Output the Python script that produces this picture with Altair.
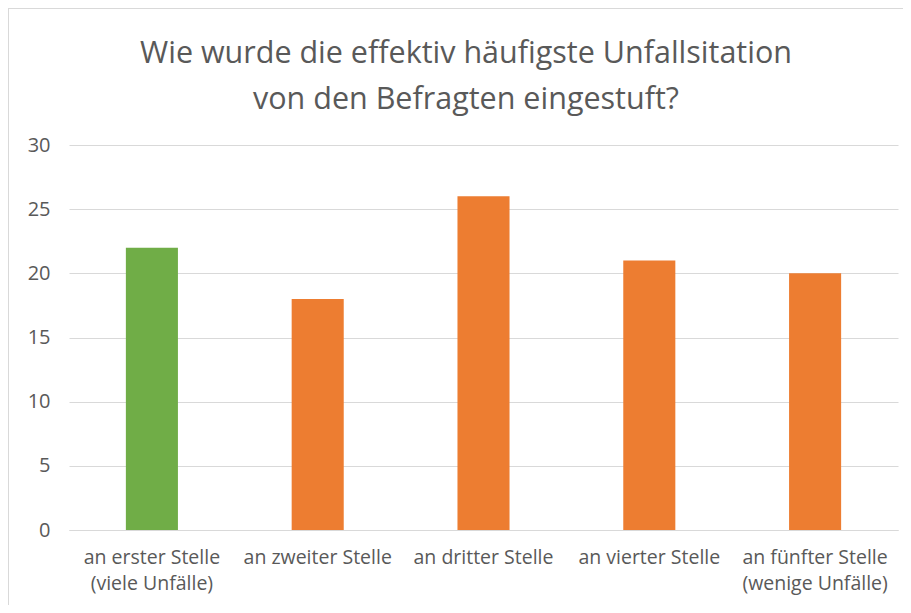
import altair as alt
import pandas as pd

kategorien = [
    "an erster Stelle\n(viele Unfälle)",
    "an zweiter Stelle",
    "an dritter Stelle",
    "an vierter Stelle",
    "an fünfter Stelle\n(wenige Unfälle)",
]
werte = [22, 18, 26, 21, 20]
y_ticks = [0, 5, 10, 15, 20, 25, 30]
titel = ["Wie wurde die effektiv häufigste Unfallsitation", "von den Befragten eingestuft?"]

df = pd.DataFrame({"rang": kategorien, "anzahl": werte})

W, H = 829, 385
FONT = "Open Sans"
TXT = "#595959"
GRID = "#d9d9d9"

bars = alt.Chart(df).mark_bar().encode(
    x=alt.X("rang:N", sort=kategorien, title=None,
            scale=alt.Scale(paddingInner=0.686, paddingOuter=0.343),
            axis=alt.Axis(labelAngle=0, labelExpr="split(datum.label, '\\n')",
                          labelFont=FONT, labelFontSize=19.5, labelColor=TXT,
                          labelPadding=18, ticks=False, domain=True,
                          domainColor=GRID, domainWidth=1, labelLineHeight=26,
                          grid=False)),
    y=alt.Y("anzahl:Q", title=None,
            scale=alt.Scale(domain=[0, 30], nice=False),
            axis=alt.Axis(values=y_ticks, labelFont=FONT, labelFontSize=20,
                          labelColor=TXT, labelPadding=19, ticks=False,
                          domain=False, grid=True, gridColor=GRID, gridWidth=1)),
    color=alt.condition(alt.datum.rang == kategorien[0],
                        alt.value("#70AD47"), alt.value("#ED7D31")),
)

rahmen = alt.Chart(pd.DataFrame({"r": [0]})).mark_rect(
    fill=None, stroke=GRID, strokeWidth=2
).encode(
    x=alt.value(-61), x2=alt.value(W + 60),
    y=alt.value(-137), y2=alt.value(H + 120),
)

kopf = alt.Chart(pd.DataFrame({"r": [0]})).mark_text(
    text=titel, font=FONT, fontSize=30.5, color=TXT, align="center",
    baseline="alphabetic", lineHeight=46,
).encode(x=alt.value(466 - 69), y=alt.value(63 - 145))

chart = alt.layer(rahmen, bars, kopf).properties(
    width=W, height=H,
    autosize=alt.AutoSizeParams(type="none"),
    padding={"left": 61, "top": 137, "right": 5, "bottom": 75},
).configure(background="white").configure_view(stroke=None)

chart.save("out.html", embed_options={"renderer": "svg", "actions": False})
